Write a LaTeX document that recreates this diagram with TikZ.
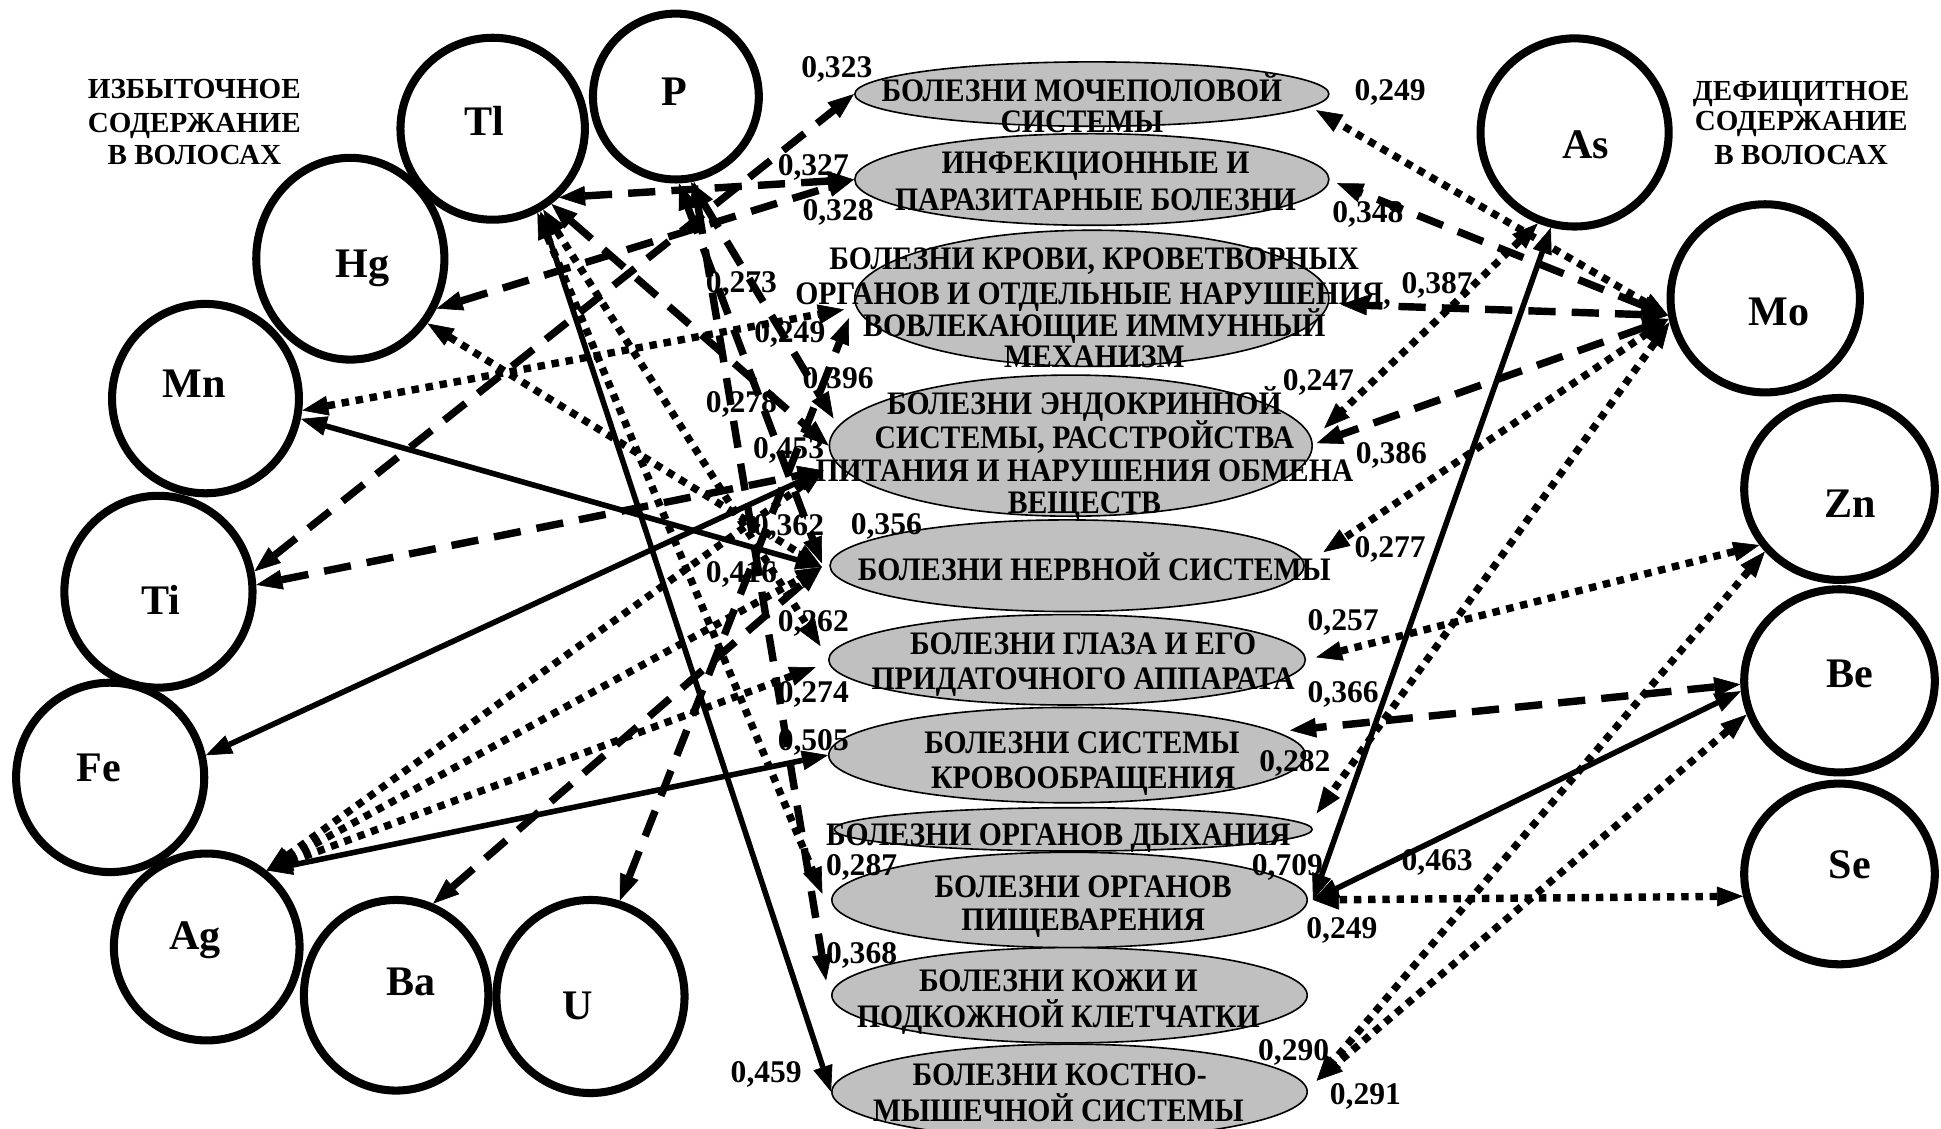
\documentclass[tikz,border=0pt]{standalone}
\usepackage{fontspec}
\setmainfont{Liberation Serif}
\newfontfamily\dfont{Liberation Serif}[FakeStretch=0.905]
\usetikzlibrary{shapes.geometric,arrows.meta}
\definecolor{dgray}{RGB}{192,192,192}
\begin{document}
\begin{tikzpicture}[x=1pt,y=-1pt,
  elem/.style={draw, line width=6.5pt, ellipse, inner sep=0pt},
  dis/.style={draw, line width=1.3pt, ellipse, fill=dgray, inner sep=0pt},
  lt/.style={font=\dfont\fontsize{26.5}{28}\selectfont\bfseries, inner sep=0pt, anchor=base},
  num/.style={font=\fontsize{25.5}{27}\selectfont\bfseries, inner sep=0pt, anchor=base},
  el/.style={font=\fontsize{34}{36}\selectfont\bfseries, inner sep=0pt, anchor=base},
  ttl/.style={font=\fontsize{23.5}{25}\selectfont\bfseries, inner sep=0pt, anchor=base},
  bigtri/.tip={Triangle[length=21pt,width=16pt,line width=0.5pt]},
  sol/.style={bigtri-bigtri, line width=4.5pt},
  dsh/.style={bigtri-bigtri, line width=6pt, dash pattern=on 22pt off 13pt},
  dtt/.style={bigtri-bigtri, line width=6pt, dash pattern=on 6pt off 5.5pt}
]
\useasboundingbox (0,0) rectangle (1568,912);
\fill[white] (0,0) rectangle (1568,912);

% disease ellipses
\node[dis, minimum width=383, minimum height=52]  (d1)  at (882,76)  {};
\node[dis, minimum width=383, minimum height=74]  (d2)  at (882,145) {};
\node[dis, minimum width=383, minimum height=110] (d3)  at (882,241) {};
\node[dis, minimum width=390, minimum height=114] (d4)  at (865,360) {};
\node[dis, minimum width=383, minimum height=74]  (d5)  at (862,457) {};
\node[dis, minimum width=385, minimum height=73]  (d6)  at (862,533) {};
\node[dis, minimum width=385, minimum height=77]  (d7)  at (862,610) {};
\node[dis, minimum width=386, minimum height=35]  (d8)  at (867,670) {};
\node[dis, minimum width=384, minimum height=77]  (d9)  at (864,727) {};
\node[dis, minimum width=384, minimum height=77]  (d10) at (864,804) {};
\node[dis, minimum width=384, minimum height=77]  (d11) at (864,882) {};

% element circles
\node[elem, minimum width=134, minimum height=134] (P)  at (546,78)  {};
\node[elem, minimum width=149, minimum height=147] (Tl) at (398,104) {};
\node[elem, minimum width=152, minimum height=163] (Hg) at (283,209) {};
\node[elem, minimum width=151, minimum height=153] (Mn) at (166,322) {};
\node[elem, minimum width=152, minimum height=155] (Ti) at (128,478) {};
\node[elem, minimum width=152, minimum height=153] (Fe) at (89,628)  {};
\node[elem, minimum width=150, minimum height=151] (Ag) at (167,765) {};
\node[elem, minimum width=149, minimum height=154] (Ba) at (320,804) {};
\node[elem, minimum width=152, minimum height=156] (U)  at (477,805) {};
\node[elem, minimum width=152, minimum height=152] (As) at (1272,107) {};
\node[elem, minimum width=153, minimum height=152] (Mo) at (1426,241) {};
\node[elem, minimum width=154, minimum height=147] (Zn) at (1486,395) {};
\node[elem, minimum width=154, minimum height=148] (Be) at (1486,550) {};
\node[elem, minimum width=154, minimum height=146] (Se) at (1486,706) {};

% connectors, left side
\draw[dsh] (Ti.12) -- (d1.west);
\draw[dsh] (Tl.-46) -- (d2.west);
\draw[dsh] (Hg.-30) -- (d2.west);
\draw[dtt] (Mn.-7) -- ([shift={(-8,9)}]d3.west);
\draw[dsh] (U.73) -- ([shift={(-4,16)}]d3.west);
\draw[dsh] (P.-80) -- ([shift={(4,-22)}]d4.west);
\draw[dsh] (Tl.-52) -- (d4.west);
\draw[sol] (Fe.13) -- ([shift={(-4,20)}]d4.west);
\draw[dsh] (Ti.4) -- ([shift={(-4,20)}]d4.west);
\draw[dtt] (Ag.52) -- ([shift={(-4,20)}]d4.west);
\draw[dsh] (P.-88) -- ([shift={(-6,-2)}]d5.west);
\draw[sol] (Mn.-12) -- ([shift={(-6,1)}]d5.west);
\draw[dtt] (Hg.-40) -- ([shift={(-6,1)}]d5.west);
\draw[dsh] (Ba.68) -- ([shift={(-6,1)}]d5.west);
\draw[dtt] (Ag.52) -- ([shift={(-6,1)}]d5.west);
\draw[dtt] (Tl.-58) -- ([shift={(-6,-11)}]d6.west);
\draw[dtt] (Ag.52) -- ([shift={(-10,6)}]d6.west);
\draw[sol] (Ag.52) -- (d7.west);
\draw[dtt] (Tl.-62) -- ([shift={(-7,-5)}]d9.west);
\draw[dsh] (P.-78) -- ([shift={(-4,-12)}]d10.west);
\draw[sol] (Tl.-60) -- (d11.west);

% connectors, right side
\draw[dtt] (Mo.190) -- ([shift={(-11,13)}]d1.east);
\draw[dsh] (Mo.190) -- ([shift={(6,3)}]d2.east);
\draw[dsh] (Mo.190) -- ([shift={(9,5)}]d3.east);
\draw[dtt] (As.-112) -- ([shift={(9,-14)}]d4.east);
\draw[dsh] (Mo.192) -- ([shift={(3,-2)}]d4.east);
\draw[dtt] (Mo.192) -- ([shift={(15,-11)}]d5.east);
\draw[dtt] (Zn.215) -- ([shift={(8,-2)}]d6.east);
\draw[dsh] (Be.182) -- ([shift={(-13,-20)}]d7.east);
\draw[dtt] (Mo.194) -- ([shift={(3,-13)}]d8.east);
\draw[sol] (As.-104) -- ([shift={(4,0)}]d9.east);
\draw[sol] (Be.186) -- ([shift={(4,0)}]d9.east);
\draw[dtt] (Se.193) -- ([shift={(4,0)}]d9.east);
\draw[dtt] (Zn.220) -- ([shift={(7,-9)}]d11.east);
\draw[dtt] (Be.200) -- ([shift={(7,-9)}]d11.east);

% element labels
\node[el] (tP)  at (545,85.3)  {P};
\node[el] (tTl) at (391,109.3) {Tl};
\node[el] (tHg) at (293,224.3) {Hg};
\node[el] (tMn) at (157,321.3) {Mn};
\node[el] (tTi) at (130,496.3) {Ti};
\node[el] (tFe) at (80,631.3)  {Fe};
\node[el] (tAg) at (157.5,767.3) {Ag};
\node[el] (tBa) at (332,804.3) {Ba};
\node[el] (tU)  at (467,823.9) {U};
\node[el] (tAs) at (1281,128.3) {As};
\node[el] (tMo) at (1437,263.3) {Mo};
\node[el] (tZn) at (1494.5,418.3) {Zn};
\node[el] (tBe) at (1494.5,555.3) {Be};
\node[el] (tSe) at (1494.5,709.3) {Se};

% titles
\node[ttl] (la) at (157,79.8)  {ИЗБЫТОЧНОЕ};
\node[ttl] (lb) at (157,106.8) {СОДЕРЖАНИЕ};
\node[ttl] (lc) at (157,132.8) {В ВОЛОСАХ};
\node[ttl] (ra) at (1455,80.8)  {ДЕФИЦИТНОЕ};
\node[ttl] (rb) at (1455,105.8) {СОДЕРЖАНИЕ};
\node[ttl] (rc) at (1455,132.8) {В ВОЛОСАХ};

% disease texts
\node[lt] (d1a) at (874,82)  {БОЛЕЗНИ МОЧЕПОЛОВОЙ};
\node[lt] (d1b) at (874,107) {СИСТЕМЫ};
\node[lt] (d2a) at (885,140) {ИНФЕКЦИОННЫЕ И};
\node[lt] (d2b) at (885,170) {ПАРАЗИТАРНЫЕ БОЛЕЗНИ};
\node[lt] (d3a) at (884,218) {БОЛЕЗНИ КРОВИ, КРОВЕТВОРНЫХ};
\node[lt] (d3b) at (883,246) {ОРГАНОВ И ОТДЕЛЬНЫЕ НАРУШЕНИЯ,};
\node[lt] (d3c) at (884,272) {ВОВЛЕКАЮЩИЕ ИММУННЫЙ};
\node[lt] (d3d) at (884,297) {МЕХАНИЗМ};
\node[lt] (d4a) at (876,335) {БОЛЕЗНИ ЭНДОКРИННОЙ};
\node[lt] (d4b) at (876,362) {СИСТЕМЫ, РАССТРОЙСТВА};
\node[lt] (d4c) at (876,389) {ПИТАНИЯ И НАРУШЕНИЯ ОБМЕНА};
\node[lt] (d4d) at (876,415) {ВЕЩЕСТВ};
\node[lt] (d5a) at (884,469) {БОЛЕЗНИ НЕРВНОЙ СИСТЕМЫ};
\node[lt] (d6a) at (875,529) {БОЛЕЗНИ ГЛАЗА И ЕГО};
\node[lt] (d6b) at (875,557) {ПРИДАТОЧНОГО АППАРАТА};
\node[lt] (d7a) at (874,609) {БОЛЕЗНИ СИСТЕМЫ};
\node[lt] (d7b) at (875,637) {КРОВООБРАЩЕНИЯ};
\node[lt] (d8a) at (855,683) {БОЛЕЗНИ ОРГАНОВ ДЫХАНИЯ};
\node[lt] (d9a) at (875,725) {БОЛЕЗНИ ОРГАНОВ};
\node[lt] (d9b) at (875,752) {ПИЩЕВАРЕНИЯ};
\node[lt] (d10a) at (855,801) {БОЛЕЗНИ КОЖИ И};
\node[lt] (d10b) at (855,830) {ПОДКОЖНОЙ КЛЕТЧАТКИ};
\node[lt] (d11a) at (856,877) {БОЛЕЗНИ КОСТНО-};
\node[lt] (d11b) at (855,906) {МЫШЕЧНОЙ СИСТЕМЫ};

% correlation labels, left
\node[num] (n1)  at (676,62.5)   {0,323};
\node[num] (n2)  at (657,141.5)  {0,327};
\node[num] (n3)  at (677,178.5)  {0,328};
\node[num] (n4)  at (599,236.5)  {0,273};
\node[num] (n5)  at (638,276.5)  {0,249};
\node[num] (n6)  at (677,313.5)  {0,396};
\node[num] (n7)  at (599,333.5)  {0,278};
\node[num] (n8)  at (637,370.5)  {0,453};
\node[num] (n9)  at (637,432.5)  {0,362};
\node[num] (n10) at (716,431.5)  {0,356};
\node[num] (n11) at (599,470.5)  {0,416};
\node[num] (n12) at (657,510.5)  {0,262};
\node[num] (n13) at (657,567.5)  {0,274};
\node[num] (n14) at (657,606.5)  {0,505};
\node[num] (n15) at (696,707)    {0,287};
\node[num] (n16) at (696,778.5)  {0,368};
\node[num] (n17) at (619,874.5)  {0,459};
% correlation labels, right
\node[num] (m1)  at (1123,81.5)  {0,249};
\node[num] (m2)  at (1105,179.5) {0,348};
\node[num] (m3)  at (1161,237.5) {0,387};
\node[num] (m4)  at (1065,315.5) {0,247};
\node[num] (m5)  at (1124,374.5) {0,386};
\node[num] (m6)  at (1123,450.5) {0,277};
\node[num] (m7)  at (1085,509.5) {0,257};
\node[num] (m8)  at (1085,567.5) {0,366};
\node[num] (m9)  at (1046,623.5) {0,282};
\node[num] (m10) at (1040,707)   {0,709};
\node[num] (m11) at (1161,703.5) {0,463};
\node[num] (m12) at (1084,758.5) {0,249};
\node[num] (m13) at (1045,856.5) {0,290};
\node[num] (m14) at (1103,892.5) {0,291};
\end{tikzpicture}
\end{document}
